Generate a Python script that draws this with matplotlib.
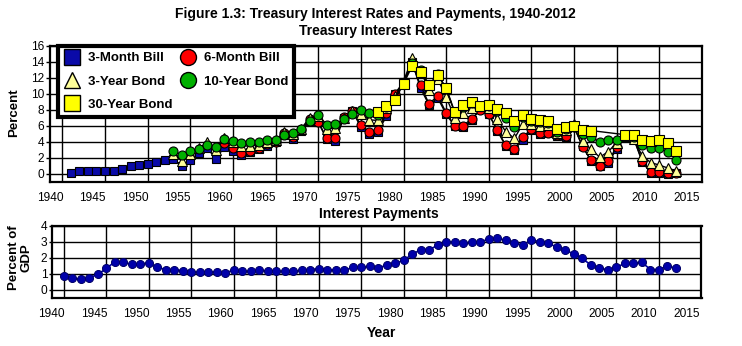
import matplotlib
matplotlib.use('Agg')
import matplotlib.pyplot as plt
from matplotlib.lines import Line2D
import numpy as np

plt.rcParams['font.family'] = ['Liberation Sans', 'DejaVu Sans']

# ---------------- data ----------------
years_3m = list(range(1941, 2013))
bill_3m = [0.10, 0.33, 0.37, 0.38, 0.38, 0.38, 0.59, 1.04, 1.10, 1.22,
           1.55, 1.77, 1.93, 0.95, 1.75, 2.66, 3.27, 1.84, 3.41, 2.93,
           2.38, 2.78, 3.16, 3.55, 3.95, 4.88, 4.32, 5.34, 6.68, 6.46,
           4.35, 4.07, 7.04, 7.89, 5.84, 4.99, 5.27, 7.22, 10.04, 11.51,
           14.03, 10.69, 8.63, 9.53, 7.47, 5.98, 5.82, 6.69, 8.12, 7.51,
           5.42, 3.45, 3.02, 4.29, 5.51, 5.02, 5.07, 4.81, 4.66, 5.85,
           3.45, 1.62, 1.02, 1.38, 3.16, 4.73, 4.41, 1.48, 0.16, 0.14,
           0.06, 0.09]

years_6m = list(range(1959, 2013))
bill_6m = [3.83, 3.25, 2.61, 2.91, 3.25, 3.69, 4.05, 5.08, 4.63, 5.47,
           6.85, 6.53, 4.51, 4.47, 7.18, 7.93, 6.12, 5.27, 5.51, 7.57,
           10.02, 11.37, 13.78, 11.08, 8.75, 9.80, 7.66, 6.03, 6.05, 6.92,
           8.04, 7.47, 5.49, 3.57, 3.14, 4.66, 5.59, 5.09, 5.18, 4.85,
           4.76, 5.92, 3.39, 1.69, 1.06, 1.57, 3.40, 4.81, 4.44, 1.62,
           0.28, 0.20, 0.10, 0.13]

years_3y = list(range(1953, 2013))
bond_3y = [2.47, 1.63, 2.47, 3.19, 3.98, 3.02, 4.46, 3.98, 3.54, 3.47,
           3.67, 4.03, 4.22, 5.23, 5.03, 5.68, 7.02, 7.29, 5.66, 5.72,
           6.96, 7.84, 7.50, 6.77, 6.69, 8.29, 9.71, 11.55, 14.44, 12.92,
           10.45, 11.89, 9.64, 7.06, 7.68, 8.26, 8.55, 8.26, 6.82, 5.30,
           4.44, 6.27, 6.25, 5.99, 6.10, 5.14, 5.49, 6.22, 4.09, 3.10,
           2.10, 2.78, 3.93, 4.77, 4.35, 2.24, 1.43, 1.11, 0.75, 0.38]

years_10y = list(range(1953, 2013))
bond_10y = [2.85, 2.40, 2.82, 3.18, 3.65, 3.32, 4.33, 4.12, 3.88, 3.95,
            4.00, 4.19, 4.28, 4.93, 5.07, 5.64, 6.67, 7.35, 6.16, 6.21,
            6.85, 7.56, 7.99, 7.61, 7.42, 8.41, 9.43, 11.43, 13.92, 13.01,
            11.10, 12.46, 10.62, 7.67, 8.39, 8.85, 8.49, 8.55, 7.86, 7.01,
            5.87, 7.09, 6.57, 6.44, 6.35, 5.26, 5.65, 6.03, 5.02, 4.61,
            4.01, 4.27, 4.29, 4.80, 4.63, 3.66, 3.26, 3.22, 2.78, 1.80]

years_30y = list(range(1977, 2003)) + list(range(2006, 2013))
bond_30y = [7.75, 8.49, 9.28, 11.27, 13.45, 12.76, 11.18, 12.41, 10.79, 7.78,
            8.59, 8.96, 8.45, 8.61, 8.14, 7.67, 6.59, 7.37, 6.88, 6.71,
            6.61, 5.58, 5.87, 5.94, 5.49, 5.43,
            4.91, 4.84, 4.28, 4.08, 4.25, 3.91, 2.92]

years_int = list(range(1940, 2013))
interest_gdp = [0.87, 0.73, 0.66, 0.77, 0.97, 1.35, 1.76, 1.72, 1.60, 1.62, 1.70,
                1.41, 1.28, 1.28, 1.20, 1.14, 1.10, 1.10, 1.14, 1.08, 1.24,
                1.16, 1.16, 1.22, 1.20, 1.16, 1.16, 1.16, 1.22, 1.28, 1.33,
                1.28, 1.24, 1.24, 1.41, 1.41, 1.47, 1.39, 1.55, 1.66, 1.87,
                2.24, 2.53, 2.53, 2.80, 3.03, 2.98, 2.92, 2.98, 3.03, 3.17,
                3.23, 3.11, 2.92, 2.82, 3.11, 3.03, 2.92, 2.67, 2.49, 2.24,
                1.97, 1.55, 1.37, 1.26, 1.43, 1.66, 1.68, 1.72, 1.28, 1.28,
                1.49, 1.37]

tick_years = list(range(1940, 2016, 5))
tick_labels = [str(y) for y in tick_years]
grid_years = list(range(1940, 2015, 5))

# ---------------- figure ----------------
W, H = 742, 346
fig = plt.figure(figsize=(W / 100, H / 100), dpi=100)


def rect(l, t, r, b):
    return [l / W, 1 - b / H, (r - l) / W, (b - t) / H]


ax1 = fig.add_axes(rect(50, 46, 702, 182))
ax2 = fig.add_axes(rect(51.5, 226, 701.5, 298))

label_pos = [y - 1.45 - 0.35 * (y - 1940) / 75 for y in tick_years]

for ax in (ax1, ax2):
    ax.set_xlim(1939.07, 2015)
    for s in ax.spines.values():
        s.set_linewidth(1.6)
        s.set_color('black')
    ax.set_xticks(grid_years, minor=True)
    ax.set_xticks(label_pos)
    ax.set_xticklabels(tick_labels)
    ax.tick_params(axis='x', which='both', length=0, pad=7.5, labelsize=8.6)
    ax.tick_params(axis='y', length=3, width=1, pad=1, labelsize=8.6)
    ax.grid(True, which='minor', axis='x', color='black', lw=1.0)
    ax.grid(True, which='major', axis='y', color='black', lw=1.0)
    ax.set_axisbelow(True)

# top chart
ax1.set_ylim(-1, 16)
ax1.set_yticks(range(0, 17, 2))
line_kw = dict(color='black', lw=1.0, mec='black', mew=0.8)
ax1.plot(years_3m, bill_3m, marker='s', ms=6.3, mfc='#0a0aa8', zorder=3, **line_kw)
ax1.plot(years_6m, bill_6m, marker='o', ms=6.5, mfc='#ff0000', zorder=4, **line_kw)
ax1.plot(years_3y, bond_3y, marker='^', ms=7.2, mfc='#ffff99', zorder=5, **line_kw)
ax1.plot(years_10y, bond_10y, marker='o', ms=6.5, mfc='#00b000', zorder=6, **line_kw)
ax1.plot(years_30y, bond_30y, marker='s', ms=7.0, mfc='#ffff00', zorder=7, **line_kw)

hkw = dict(ls='none', mec='black', mew=1.0)
handles = [
    Line2D([], [], marker='s', ms=11, mfc='#0a0aa8', **hkw),
    Line2D([], [], marker='^', ms=12, mfc='#ffff99', **hkw),
    Line2D([], [], marker='s', ms=11, mfc='#ffff00', **hkw),
    Line2D([], [], marker='o', ms=11.5, mfc='#ff0000', **hkw),
    Line2D([], [], marker='o', ms=11.5, mfc='#00b000', **hkw),
]
labels = ['3-Month Bill', '3-Year Bond', '30-Year Bond', '6-Month Bill', '10-Year Bond']
leg = ax1.legend(handles, labels, ncol=2, loc='upper left', bbox_to_anchor=(0.012, 1.0),
                 borderaxespad=0, fancybox=False, framealpha=1, edgecolor='black',
                 prop={'weight': 'bold', 'size': 9.5}, labelspacing=0.85,
                 columnspacing=0.6, handletextpad=0.6, handlelength=1.2, borderpad=0.45)
leg.get_frame().set_linewidth(3)
leg.set_zorder(20)

# bottom chart
ax2.set_ylim(-0.5, 4)
ax2.set_yticks(range(0, 5))
ax2.tick_params(axis='y', length=2)
ax2.plot(years_int, interest_gdp, color='#0000aa', lw=1.2, marker='o', ms=5.8,
         mfc='#0000aa', mec='#000066', mew=0.7, zorder=3)

# texts
fig.text(375 / W, 1 - 14 / H, 'Figure 1.3: Treasury Interest Rates and Payments, 1940-2012',
         ha='center', va='center', weight='bold', size=10)
fig.text(376 / W, 1 - 31 / H, 'Treasury Interest Rates', ha='center', va='center',
         weight='bold', size=10)
fig.text(379 / W, 1 - 214 / H, 'Interest Payments', ha='center', va='center',
         weight='bold', size=10)
fig.text(14 / W, 1 - 113 / H, 'Percent', ha='center', va='center', rotation=90,
         weight='bold', size=9.5)
fig.text(20 / W, 1 - 258 / H, 'Percent of\nGDP', ha='center', va='center', rotation=90,
         weight='bold', size=9.5, multialignment='center', linespacing=1.1)
fig.text(381 / W, 1 - 333 / H, 'Year', ha='center', va='center', weight='bold', size=10)

fig.savefig('out.png', dpi=100)
